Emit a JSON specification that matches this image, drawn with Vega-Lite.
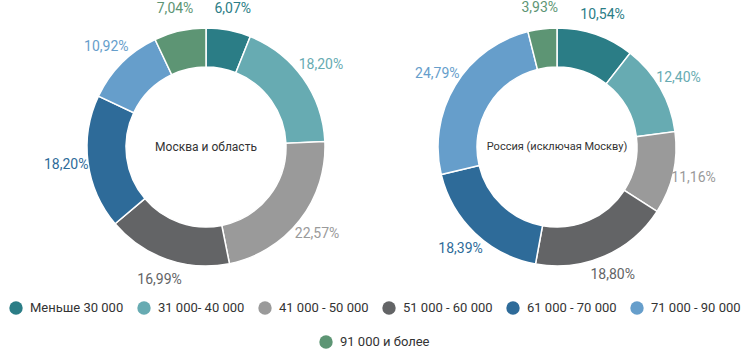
{
  "$schema": "https://vega.github.io/schema/vega-lite/v6.json",
  "padding": {"left": 9, "top": 1, "right": 2, "bottom": 2},
  "background": "white",
  "datasets": {
    "d": [
      {"region": "Москва и область", "category": "Меньше 30 000", "i": 1, "value": 6.07, "label": "6,07%"},
      {"region": "Москва и область", "category": "31 000- 40 000", "i": 2, "value": 18.20, "label": "18,20%"},
      {"region": "Москва и область", "category": "41 000 - 50 000", "i": 3, "value": 22.57, "label": "22,57%"},
      {"region": "Москва и область", "category": "51 000 - 60 000", "i": 4, "value": 16.99, "label": "16,99%"},
      {"region": "Москва и область", "category": "61 000 - 70 000", "i": 5, "value": 18.20, "label": "18,20%"},
      {"region": "Москва и область", "category": "71 000 - 90 000", "i": 6, "value": 10.92, "label": "10,92%"},
      {"region": "Москва и область", "category": "91 000 и более", "i": 7, "value": 7.04, "label": "7,04%"},
      {"region": "Россия (исключая Москву)", "category": "Меньше 30 000", "i": 1, "value": 10.54, "label": "10,54%"},
      {"region": "Россия (исключая Москву)", "category": "31 000- 40 000", "i": 2, "value": 12.40, "label": "12,40%"},
      {"region": "Россия (исключая Москву)", "category": "41 000 - 50 000", "i": 3, "value": 11.16, "label": "11,16%"},
      {"region": "Россия (исключая Москву)", "category": "51 000 - 60 000", "i": 4, "value": 18.80, "label": "18,80%"},
      {"region": "Россия (исключая Москву)", "category": "61 000 - 70 000", "i": 5, "value": 18.39, "label": "18,39%"},
      {"region": "Россия (исключая Москву)", "category": "71 000 - 90 000", "i": 6, "value": 24.79, "label": "24,79%"},
      {"region": "Россия (исключая Москву)", "category": "91 000 и более", "i": 7, "value": 3.93, "label": "3,93%"}
    ]
  },
  "spacing": 11,
  "hconcat": [
    {
      "width": 340,
      "height": 280,
      "data": {"name": "d"},
      "transform": [{"filter": "datum.region === 'Москва и область'"}],
      "layer": [
        {
          "mark": {"type": "arc", "outerRadius": 119, "innerRadius": 80, "stroke": "white", "strokeWidth": 1.5},
          "encoding": {
            "theta": {"field": "value", "type": "quantitative", "stack": true},
            "color": {"field": "category", "type": "nominal", "sort": {"field": "i"},
              "legend": {"orient": "none", "direction": "horizontal", "legendX": -27, "legendY": 294,
                "values": ["Меньше 30 000", "31 000- 40 000", "41 000 - 50 000", "51 000 - 60 000", "61 000 - 70 000", "71 000 - 90 000"]}},
            "order": {"field": "i", "type": "quantitative"}
          }
        },
        {
          "mark": {"type": "text", "radius": 141, "fontSize": 14, "font": "Roboto"},
          "encoding": {
            "theta": {"field": "value", "type": "quantitative", "stack": true},
            "color": {"field": "category", "type": "nominal", "sort": {"field": "i"},
              "legend": {"orient": "none", "direction": "horizontal", "legendX": -27, "legendY": 294,
                "values": ["Меньше 30 000", "31 000- 40 000", "41 000 - 50 000", "51 000 - 60 000", "61 000 - 70 000", "71 000 - 90 000"]}},
            "order": {"field": "i", "type": "quantitative"},
            "text": {"field": "label"}
          }
        },
        {
          "data": {"values": [{"t": "Москва и область"}]},
          "mark": {"type": "text", "fontSize": 12, "color": "#333333", "font": "Roboto"},
          "encoding": {"text": {"field": "t"}}
        }
      ]
    },
    {
      "width": 340,
      "height": 280,
      "data": {"name": "d"},
      "transform": [{"filter": "datum.region === 'Россия (исключая Москву)'"}],
      "layer": [
        {
          "mark": {"type": "arc", "outerRadius": 119, "innerRadius": 80, "stroke": "white", "strokeWidth": 1.5},
          "encoding": {
            "theta": {"field": "value", "type": "quantitative", "stack": true},
            "color": {"field": "category", "type": "nominal", "sort": {"field": "i"},
              "legend": {"orient": "none", "direction": "horizontal", "legendX": -27, "legendY": 294,
                "values": ["Меньше 30 000", "31 000- 40 000", "41 000 - 50 000", "51 000 - 60 000", "61 000 - 70 000", "71 000 - 90 000"]}},
            "order": {"field": "i", "type": "quantitative"}
          }
        },
        {
          "mark": {"type": "text", "radius": 140, "fontSize": 14, "font": "Roboto"},
          "encoding": {
            "theta": {"field": "value", "type": "quantitative", "stack": true},
            "color": {"field": "category", "type": "nominal", "sort": {"field": "i"},
              "legend": {"orient": "none", "direction": "horizontal", "legendX": -27, "legendY": 294,
                "values": ["Меньше 30 000", "31 000- 40 000", "41 000 - 50 000", "51 000 - 60 000", "61 000 - 70 000", "71 000 - 90 000"]}},
            "order": {"field": "i", "type": "quantitative"},
            "text": {"field": "label"}
          }
        },
        {
          "data": {"values": [{"t": "Россия (исключая Москву)"}]},
          "mark": {"type": "text", "fontSize": 11, "color": "#333333", "font": "Roboto"},
          "encoding": {"text": {"field": "t"}}
        },
        {
          "data": {"values": [{"category": "91 000 и более"}]},
          "mark": {"type": "point", "filled": true, "size": 0, "strokeWidth": 0},
          "encoding": {
            "fill": {"field": "category", "type": "nominal", "scale": {"range": ["#5d9574"]},
              "legend": {"orient": "none", "direction": "horizontal", "legendX": 283, "legendY": 328}}
          }
        }
      ]
    }
  ],
  "resolve": {"scale": {"color": "shared"}},
  "config": {
    "view": {"stroke": null},
    "range": {"category": ["#2b7d86", "#67abb2", "#9a9a9a", "#636466", "#2e6b99", "#669ecb", "#5d9574"]},
    "legend": {
      "title": null,
      "symbolType": "circle",
      "symbolSize": 180,
      "symbolStrokeWidth": 0,
      "symbolOpacity": 1,
      "labelFontSize": 13,
      "labelFont": "Roboto",
      "labelColor": "#333333",
      "columnPadding": 13,
      "labelOffset": 7,
      "labelLimit": 200
    }
  }
}
